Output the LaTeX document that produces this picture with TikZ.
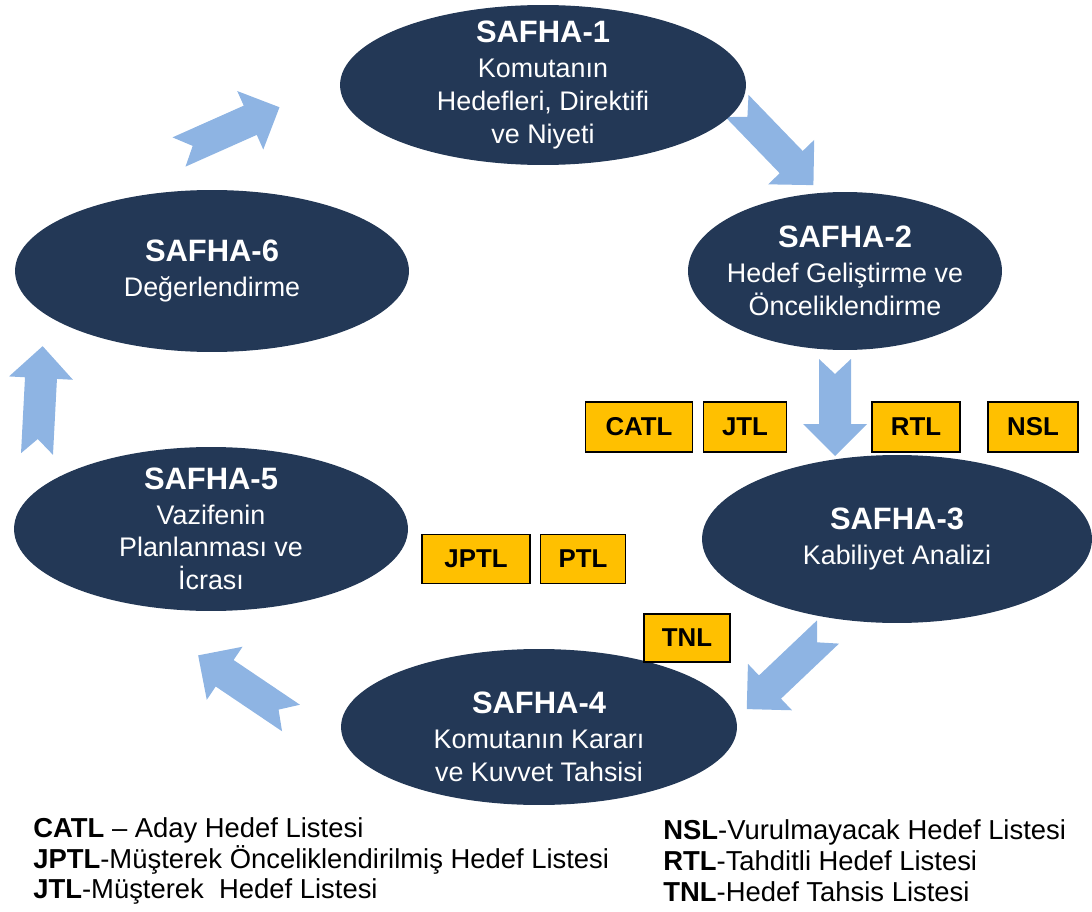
\documentclass[tikz,border=0pt]{standalone}
\usepackage{fontspec}
\setmainfont{Liberation Sans}
\usetikzlibrary{shapes.geometric, calc}

\definecolor{safhablue}{RGB}{35,56,86}
\definecolor{arrowblue}{RGB}{142,180,227}
\definecolor{listyellow}{RGB}{255,192,0}

\newcommand{\baslik}[1]{{\bfseries\fontsize{17.6}{20}\selectfont #1}}
\newcommand{\blockarrow}[3]{%
  \fill[arrowblue, shift={(#1)}, rotate=#2] (0,16) -- ({#3-32},16) -- ({#3-32},32) -- (#3,0)
    -- ({#3-32},-32) -- ({#3-32},-16) -- (0,-16) -- (15,0) -- cycle;}

\begin{document}
\begin{tikzpicture}[x=0.02cm, y=-0.02cm,
    safha/.style={ellipse, fill=safhablue, inner sep=0pt},
    safhatext/.style={text=white, inner sep=0pt, align=center,
      font=\fontsize{15.3}{18.7}\selectfont},
    liste/.style={draw=black, line width=0.8pt, fill=listyellow, minimum height=1cm,
      inner sep=0pt, font=\bfseries\fontsize{14.7}{17}\selectfont},
    legend/.style={anchor=west, align=left, inner sep=0pt,
      font=\fontsize{15.6}{17.6}\selectfont}]
    \useasboundingbox (0,0) rectangle (1092,912);

    \blockarrow{179,152}{24}{110}
    \blockarrow{737,106}{-46}{110}
    \blockarrow{835,359}{-90}{97}
    \blockarrow{828,632}{-136.5}{112}
    \blockarrow{291,718}{146}{112}
    \blockarrow{37,454}{87}{108}

    \node[safha, minimum width=8.12cm, minimum height=3.2cm] (s1) at (543,85) {};
    \node[safha, minimum width=6.28cm, minimum height=3.16cm] (s2) at (845,271) {};
    \node[safha, minimum width=7.8cm, minimum height=3.36cm] (s3) at (897,539) {};
    \node[safha, minimum width=7.92cm, minimum height=3.12cm] (s4) at (539,727) {};
    \node[safha, minimum width=7.88cm, minimum height=3.28cm] (s5) at (211,529) {};
    \node[safha, minimum width=7.88cm, minimum height=3.24cm] (s6) at (212,271) {};

    \node[safhatext] (t1) at (s1) {\baslik{SAFHA-1}\\[1pt] Komutanın\\ Hedefleri, Direktifi\\ ve Niyeti};
    \node[safhatext] (t2) at (s2) {\baslik{SAFHA-2}\\[1pt] Hedef Geliştirme ve\\ Önceliklendirme};
    \node[safhatext] (t3) at (s3) {\baslik{SAFHA-3}\\[1pt] Kabiliyet Analizi};
    \node[safhatext, yshift=-0.2cm] (t4) at (s4) {\baslik{SAFHA-4}\\[1pt] Komutanın Kararı\\ ve Kuvvet Tahsisi};
    \node[safhatext] (t5) at (s5) {\baslik{SAFHA-5}\\[1pt] Vazifenin\\ Planlanması ve\\ İcrası};
    \node[safhatext] (t6) at (s6) {\baslik{SAFHA-6}\\[1pt] Değerlendirme};

    \node[liste, minimum width=2.14cm] (catl) at (639,427) {CATL};
    \node[liste, minimum width=1.66cm] (jtl) at (745,427) {JTL};
    \node[liste, minimum width=1.76cm] (rtl) at (916,427) {RTL};
    \node[liste, minimum width=1.8cm] (nsl) at (1033,427) {NSL};
    \node[liste, minimum width=2.16cm, minimum height=0.98cm] (jptl) at (476,559) {JPTL};
    \node[liste, minimum width=1.7cm, minimum height=0.98cm] (ptl) at (583,559) {PTL};
    \node[liste, minimum width=1.72cm, minimum height=0.96cm] (tnl) at (687,638) {TNL};

    \node[legend] (leg1) at (33,861)
        {\textbf{CATL} -- Aday Hedef Listesi\\ \textbf{JPTL}-Müşterek Önceliklendirilmiş Hedef Listesi\\ \textbf{JTL}-Müşterek\ \ Hedef Listesi};
    \node[legend] (leg2) at (663,861)
        {\textbf{NSL}-Vurulmayacak Hedef Listesi\\ \textbf{RTL}-Tahditli Hedef Listesi\\ \textbf{TNL}-Hedef Tahsis Listesi};
\end{tikzpicture}
\end{document}
